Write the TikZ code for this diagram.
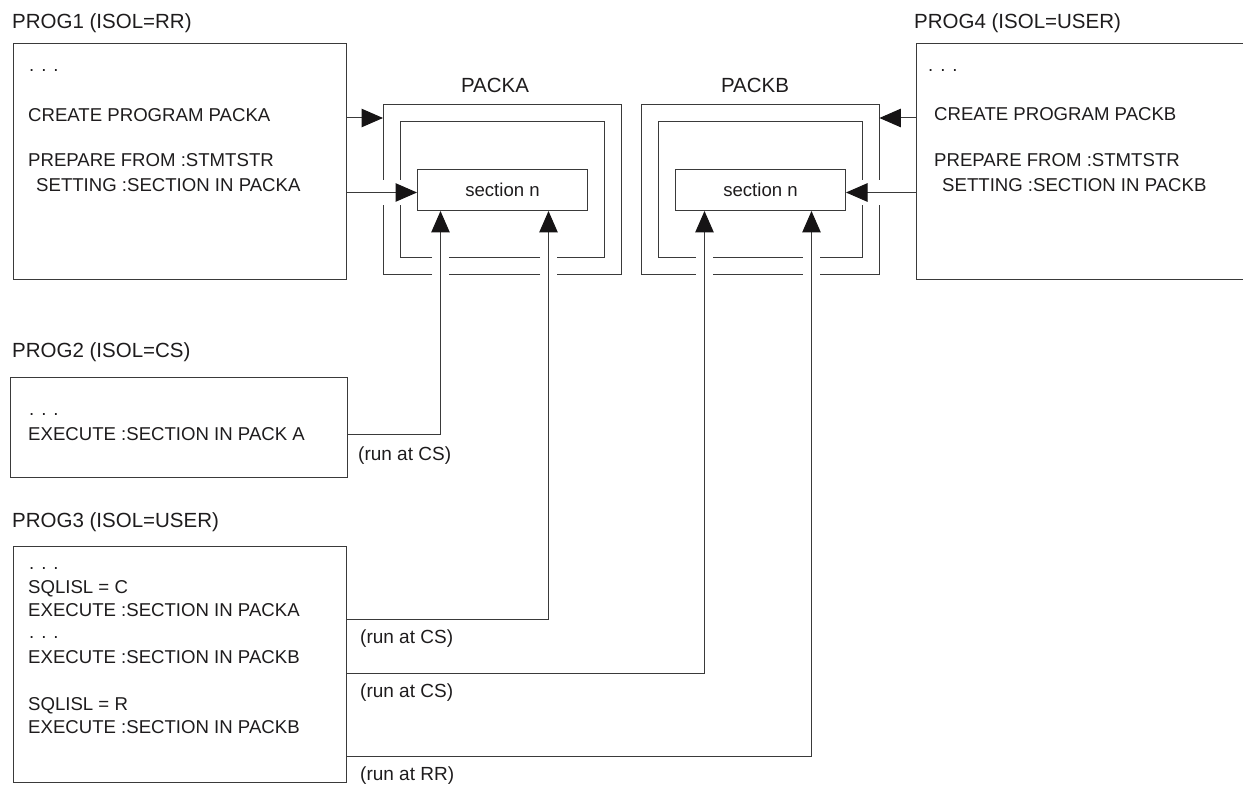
\documentclass[tikz,border=0pt]{standalone}
\usepackage{fontspec}
\setmainfont{Liberation Sans}
\usetikzlibrary{arrows.meta}
\definecolor{ln}{HTML}{3A3A3A}
\definecolor{txt}{HTML}{1E1C1D}
\definecolor{tip}{HTML}{161415}
\tikzset{
  box/.style={draw=ln, line width=1pt, inner sep=0pt, anchor=north west},
  ghost/.style={inner sep=0pt, anchor=north west},
  frame/.style={draw=ln, line width=1pt},
  lbl/.style={anchor=base west, inner sep=0pt, text=txt, font=\fontsize{20.5}{24}\selectfont},
  plbl/.style={anchor=base, inner sep=0pt, text=txt, font=\fontsize{20.5}{24}\selectfont},
  code/.style={anchor=base west, inner sep=0pt, text=txt, font=\fontsize{18.6}{22}\selectfont},
  run/.style={anchor=base west, inner sep=0pt, text=txt, font=\fontsize{19}{22}\selectfont},
  secbox/.style={draw=ln, line width=1pt, inner sep=0pt, anchor=north west, text=txt, font=\fontsize{18.6}{22}\selectfont},
  arr/.style={draw=ln, line width=1pt, -{Triangle[length=21.5pt,width=18.5pt,fill=tip,color=tip]}},
}
\begin{document}
\begin{tikzpicture}[x=1pt,y=-1pt]
\useasboundingbox (0,0) rectangle (1243,786);

% ---------- PROG1 ----------
\node[lbl] (l1) at (12,29) {PROG1 (ISOL=RR)};
\node[box, minimum width=333pt, minimum height=236pt] (p1) at (13,43) {};
\node[code] (p1a) at (29,72) {. . .};
\node[code] (p1b) at (28,122) {CREATE PROGRAM PACKA};
\node[code] (p1c) at (28,167) {PREPARE FROM :STMTSTR};
\node[code] (p1d) at (36,192) {SETTING :SECTION IN PACKA};

% ---------- PROG4 ----------
\node[lbl] (l4) at (914,29) {PROG4 (ISOL=USER)};
\node[box, minimum width=340pt, minimum height=236pt] (p4) at (916,43) {};
\node[code] (p4a) at (928,72) {. . .};
\node[code] (p4b) at (934,121) {CREATE PROGRAM PACKB};
\node[code] (p4c) at (934,167) {PREPARE FROM :STMTSTR};
\node[code] (p4d) at (942,192) {SETTING :SECTION IN PACKB};

% ---------- PACKA ----------
\node[plbl] (la) at (495,93) {PACKA};
\node[ghost, minimum width=238pt, minimum height=170pt] (paOut) at (383,105) {};
\node[secbox, minimum width=170pt, minimum height=41pt] (paSec) at (417,169) {section n};
\draw[frame] (383,180) -- (383,105) -- (621,105) -- (621,275) -- (557,275)
             (540,275) -- (449,275) (432,275) -- (383,275) -- (383,205);
\draw[frame] (400,180) -- (400,122) -- (604,122) -- (604,258) -- (557,258)
             (540,258) -- (449,258) (432,258) -- (400,258) -- (400,205);

% ---------- PACKB ----------
\node[plbl] (lb) at (755,93) {PACKB};
\node[ghost, minimum width=238pt, minimum height=170pt] (pbOut) at (641,105) {};
\node[secbox, minimum width=170pt, minimum height=41pt] (pbSec) at (675,169) {section n};
\draw[frame] (879,180) -- (879,105) -- (641,105) -- (641,275) -- (696,275)
             (713,275) -- (803,275) (820,275) -- (879,275) -- (879,205);
\draw[frame] (862,180) -- (862,122) -- (658,122) -- (658,258) -- (696,258)
             (713,258) -- (803,258) (820,258) -- (862,258) -- (862,205);

% ---------- PROG2 ----------
\node[lbl] (l2) at (12,358) {PROG2 (ISOL=CS)};
\node[box, minimum width=337pt, minimum height=100pt] (p2) at (10,377) {};
\node[code] (p2a) at (29,416) {. . .};
\node[code] (p2b) at (28,440) {EXECUTE :SECTION IN PACK A};
\node[run] (r1) at (358,460) {(run at CS)};

% ---------- PROG3 ----------
\node[lbl] (l3) at (12,527) {PROG3 (ISOL=USER)};
\node[box, minimum width=333pt, minimum height=236pt] (p3) at (13,546) {};
\node[code] (p3a) at (29,569) {. . .};
\node[code] (p3b) at (28,593) {SQLISL = C};
\node[code] (p3c) at (28,616) {EXECUTE :SECTION IN PACKA};
\node[code] (p3d) at (29,638) {. . .};
\node[code] (p3e) at (28,663) {EXECUTE :SECTION IN PACKB};
\node[code] (p3f) at (28,710) {SQLISL = R};
\node[code] (p3g) at (28,733) {EXECUTE :SECTION IN PACKB};
\node[run] (r2) at (360,643) {(run at CS)};
\node[run] (r3) at (360,697) {(run at CS)};
\node[run] (r4) at (360,780) {(run at RR)};

% ---------- helper coordinates ----------
\coordinate (yA) at (0,118);
\coordinate (yB) at (0,192.5);
\coordinate (y2) at (0,434);
\coordinate (y3a) at (0,619);
\coordinate (y3b) at (0,673);
\coordinate (y3c) at (0,756);
\coordinate (xA1) at (440.5,0);
\coordinate (xA2) at (548.5,0);
\coordinate (xB1) at (704.5,0);
\coordinate (xB2) at (811.5,0);

% ---------- connectors ----------
\draw[arr] (p1.east |- yA) -- (paOut.west |- yA);
\draw[arr] (p1.east |- yB) -- (paSec.west |- yB);
\draw[arr] (p4.west |- yA) -- (pbOut.east |- yA);
\draw[arr] (p4.west |- yB) -- (pbSec.east |- yB);
\draw[arr] (p2.east |- y2) -| (xA1 |- paSec.south);
\draw[arr] (p3.east |- y3a) -| (xA2 |- paSec.south);
\draw[arr] (p3.east |- y3b) -| (xB1 |- pbSec.south);
\draw[arr] (p3.east |- y3c) -| (xB2 |- pbSec.south);
\end{tikzpicture}
\end{document}
